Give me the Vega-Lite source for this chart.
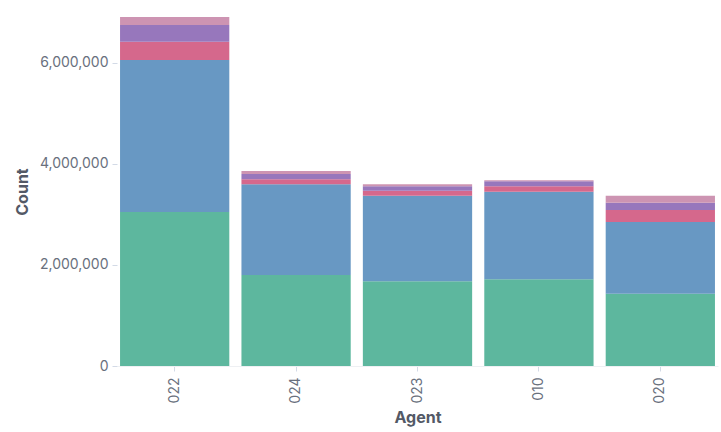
{
  "$schema": "https://vega.github.io/schema/vega-lite/v6.json",
  "width": 601,
  "height": 349,
  "padding": {"left": 14, "top": 17, "right": 1, "bottom": 3},
  "background": "white",
  "config": {
    "view": {"stroke": null},
    "font": "Inter",
    "axis": {
      "labelFont": "Inter",
      "titleFont": "Inter",
      "labelColor": "#69707d",
      "titleColor": "#535966",
      "labelFontSize": 14,
      "titleFontSize": 16,
      "titleFontWeight": "bold",
      "tickColor": "#d3dae6",
      "domainColor": "#eef0f3",
      "grid": false
    }
  },
  "data": {
    "values": [
      {"agent": "022", "series": "s1", "rank": 1, "count": 3050000},
      {"agent": "022", "series": "s2", "rank": 2, "count": 3010000},
      {"agent": "022", "series": "s3", "rank": 3, "count": 360000},
      {"agent": "022", "series": "s4", "rank": 4, "count": 330000},
      {"agent": "022", "series": "s5", "rank": 5, "count": 160000},
      {"agent": "024", "series": "s1", "rank": 1, "count": 1800000},
      {"agent": "024", "series": "s2", "rank": 2, "count": 1800000},
      {"agent": "024", "series": "s3", "rank": 3, "count": 100000},
      {"agent": "024", "series": "s4", "rank": 4, "count": 100000},
      {"agent": "024", "series": "s5", "rank": 5, "count": 60000},
      {"agent": "023", "series": "s1", "rank": 1, "count": 1680000},
      {"agent": "023", "series": "s2", "rank": 2, "count": 1690000},
      {"agent": "023", "series": "s3", "rank": 3, "count": 100000},
      {"agent": "023", "series": "s4", "rank": 4, "count": 90000},
      {"agent": "023", "series": "s5", "rank": 5, "count": 40000},
      {"agent": "010", "series": "s1", "rank": 1, "count": 1720000},
      {"agent": "010", "series": "s2", "rank": 2, "count": 1730000},
      {"agent": "010", "series": "s3", "rank": 3, "count": 110000},
      {"agent": "010", "series": "s4", "rank": 4, "count": 100000},
      {"agent": "010", "series": "s5", "rank": 5, "count": 20000},
      {"agent": "020", "series": "s1", "rank": 1, "count": 1430000},
      {"agent": "020", "series": "s2", "rank": 2, "count": 1420000},
      {"agent": "020", "series": "s3", "rank": 3, "count": 240000},
      {"agent": "020", "series": "s4", "rank": 4, "count": 140000},
      {"agent": "020", "series": "s5", "rank": 5, "count": 140000}
    ]
  },
  "mark": {"type": "bar", "opacity": 0.95},
  "encoding": {
    "x": {
      "field": "agent",
      "type": "nominal",
      "sort": ["022", "024", "023", "010", "020"],
      "title": "Agent",
      "scale": {"paddingInner": 0.1, "paddingOuter": 0.025},
      "axis": {"labelAngle": -90, "labelPadding": 6, "tickSize": 5, "titlePadding": 6}
    },
    "y": {
      "field": "count",
      "type": "quantitative",
      "aggregate": "sum",
      "stack": "zero",
      "title": "Count",
      "scale": {"domain": [0, 6910000], "nice": false},
      "axis": {"values": [0, 2000000, 4000000, 6000000], "format": ",d", "domain": false, "tickSize": 5, "labelPadding": 4, "titlePadding": 9}
    },
    "color": {
      "field": "series",
      "type": "nominal",
      "legend": null,
      "scale": {"domain": ["s1", "s2", "s3", "s4", "s5"], "range": ["#54B399", "#6092C0", "#D36086", "#9170B8", "#CA8EAE"]}
    },
    "order": {"field": "rank", "type": "quantitative"}
  }
}
